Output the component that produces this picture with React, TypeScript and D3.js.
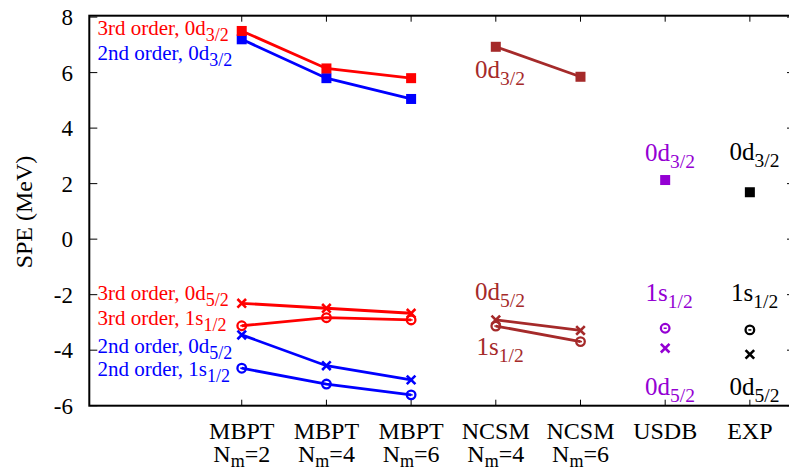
import React from "react";
import * as d3 from "d3";

const methods = ["MBPT", "MBPT", "MBPT", "NCSM", "NCSM", "USDB", "EXP"];
const nmValues = ["2", "4", "6", "4", "6", "", ""];
const yTicks = [-6, -4, -2, 0, 2, 4, 6, 8];

const mbptIdx = [0, 1, 2];
const ncsmIdx = [3, 4];
const usdbIdx = [5];
const expIdx = [6];

const mbpt3_d32 = [7.5, 6.15, 5.8];
const mbpt2_d32 = [7.2, 5.8, 5.05];
const mbpt3_d52 = [-2.31, -2.49, -2.67];
const mbpt3_s12 = [-3.12, -2.83, -2.91];
const mbpt2_d52 = [-3.45, -4.56, -5.07];
const mbpt2_s12 = [-4.65, -5.22, -5.61];
const ncsm_d32 = [6.93, 5.85];
const ncsm_d52 = [-2.91, -3.29];
const ncsm_s12 = [-3.13, -3.69];
const usdb_d32 = [2.13];
const usdb_s12 = [-3.21];
const usdb_d52 = [-3.93];
const exp_d32 = [1.69];
const exp_s12 = [-3.27];
const exp_d52 = [-4.15];

const RED = "#ff0000";
const BLUE = "#0000ff";
const BROWN = "#a52a2a";
const VIOLET = "#9400d3";
const BLACK = "#000000";

type Marker = "square" | "circle" | "cross";
interface Series { idx: number[]; vals: number[]; color: string; marker: Marker; line: boolean; }

const series: Series[] = [
  { idx: mbptIdx, vals: mbpt2_d32, color: BLUE, marker: "square", line: true },
  { idx: mbptIdx, vals: mbpt3_d32, color: RED, marker: "square", line: true },
  { idx: mbptIdx, vals: mbpt2_d52, color: BLUE, marker: "cross", line: true },
  { idx: mbptIdx, vals: mbpt2_s12, color: BLUE, marker: "circle", line: true },
  { idx: mbptIdx, vals: mbpt3_d52, color: RED, marker: "cross", line: true },
  { idx: mbptIdx, vals: mbpt3_s12, color: RED, marker: "circle", line: true },
  { idx: ncsmIdx, vals: ncsm_d32, color: BROWN, marker: "square", line: true },
  { idx: ncsmIdx, vals: ncsm_d52, color: BROWN, marker: "cross", line: true },
  { idx: ncsmIdx, vals: ncsm_s12, color: BROWN, marker: "circle", line: true },
  { idx: usdbIdx, vals: usdb_d32, color: VIOLET, marker: "square", line: false },
  { idx: usdbIdx, vals: usdb_s12, color: VIOLET, marker: "circle", line: false },
  { idx: usdbIdx, vals: usdb_d52, color: VIOLET, marker: "cross", line: false },
  { idx: expIdx, vals: exp_d32, color: BLACK, marker: "square", line: false },
  { idx: expIdx, vals: exp_s12, color: BLACK, marker: "circle", line: false },
  { idx: expIdx, vals: exp_d52, color: BLACK, marker: "cross", line: false },
];

interface Ann { x: number; y: number; main: string; sub: string; color: string; big: boolean; }
const annotations: Ann[] = [
  { x: 97.5, y: 35, main: "3rd order, 0d", sub: "3/2", color: RED, big: false },
  { x: 97.5, y: 59.5, main: "2nd order, 0d", sub: "3/2", color: BLUE, big: false },
  { x: 97.5, y: 299.5, main: "3rd order, 0d", sub: "5/2", color: RED, big: false },
  { x: 97.5, y: 325, main: "3rd order, 1s", sub: "1/2", color: RED, big: false },
  { x: 97.5, y: 352.5, main: "2nd order, 0d", sub: "5/2", color: BLUE, big: false },
  { x: 97.5, y: 376, main: "2nd order, 1s", sub: "1/2", color: BLUE, big: false },
  { x: 475, y: 77.5, main: "0d", sub: "3/2", color: BROWN, big: true },
  { x: 475, y: 299.5, main: "0d", sub: "5/2", color: BROWN, big: true },
  { x: 476.5, y: 355, main: "1s", sub: "1/2", color: BROWN, big: true },
  { x: 645, y: 161, main: "0d", sub: "3/2", color: VIOLET, big: true },
  { x: 645.5, y: 300.5, main: "1s", sub: "1/2", color: VIOLET, big: true },
  { x: 645, y: 395, main: "0d", sub: "5/2", color: VIOLET, big: true },
  { x: 729.5, y: 159.5, main: "0d", sub: "3/2", color: BLACK, big: true },
  { x: 731, y: 300.5, main: "1s", sub: "1/2", color: BLACK, big: true },
  { x: 729.5, y: 395, main: "0d", sub: "5/2", color: BLACK, big: true },
];

const W = 789, H = 468;
const L = 89.3, R = 795, T = 15.7, B = 405.7;
const FONT = "'Liberation Serif', 'Times New Roman', serif";

export default function App() {
  const x = d3.scaleLinear().domain([-1.8, 6.533]).range([L, R]);
  const y = d3.scaleLinear().domain([-6, 8.05]).range([B, T]);
  const line = d3.line<[number, number]>().x(d => x(d[0])).y(d => y(d[1]));

  const drawMarker = (m: Marker, cx: number, cy: number, color: string, key: string) => {
    if (m === "square") return <rect key={key} x={cx - 5} y={cy - 5} width={10} height={10} fill={color} />;
    if (m === "circle") return (
      <g key={key}>
        <circle cx={cx} cy={cy} r={4.3} fill="none" stroke={color} strokeWidth={2.3} />
        <line x1={cx - 1.5} x2={cx + 1.5} y1={cy} y2={cy} stroke={color} strokeWidth={1.5} />
      </g>
    );
    return (
      <path key={key} d={`M${cx - 4.3},${cy - 4.3}L${cx + 4.3},${cy + 4.3}M${cx - 4.3},${cy + 4.3}L${cx + 4.3},${cy - 4.3}`}
        stroke={color} strokeWidth={2.6} fill="none" />
    );
  };

  return (
    <svg width={W} height={H} style={{ position: "absolute", left: 0, top: 0, background: "#fff" }} fontFamily={FONT}>
      <rect x={0} y={0} width={W} height={H} fill="#fff" />
      {yTicks.map(t => (
        <g key={"yt" + t}>
          <line x1={L} x2={L + 8} y1={y(t)} y2={y(t)} stroke="#000" strokeWidth={1} />
          <line x1={R - 8} x2={R} y1={y(t)} y2={y(t)} stroke="#000" strokeWidth={1} />
          <text x={73} y={y(t)} dy="0.35em" textAnchor="end" fontSize={23}>{t}</text>
        </g>
      ))}
      {methods.map((m, i) => (
        <g key={"xt" + i}>
          <line x1={x(i)} x2={x(i)} y1={B} y2={B - 6} stroke="#000" strokeWidth={1} />
          <line x1={x(i)} x2={x(i)} y1={T} y2={T + 6} stroke="#000" strokeWidth={1} />
          <text x={x(i)} y={438.5} textAnchor="middle" fontSize={24}>{m}</text>
          {nmValues[i] && (
            <text x={x(i)} y={461.5} textAnchor="middle" fontSize={24}>
              N<tspan fontSize={18} dy={5}>m</tspan><tspan dy={-5}>={nmValues[i]}</tspan>
            </text>
          )}
        </g>
      ))}
      <text transform="translate(32,212) rotate(-90)" textAnchor="middle" fontSize={24}>SPE (MeV)</text>
      {series.filter(s => s.line).map((s, k) => (
        <path key={"l" + k} d={line(s.idx.map((i, j) => [i, s.vals[j]] as [number, number])) || ""}
          fill="none" stroke={s.color} strokeWidth={2.8} />
      ))}
      {series.map((s, k) => s.idx.map((i, j) => drawMarker(s.marker, x(i), y(s.vals[j]), s.color, `m${k}-${j}`)))}
      {annotations.map((a, k) => (
        <text key={"a" + k} x={a.x} y={a.y} fill={a.color} fontSize={a.big ? 25 : 21}>
          {a.main}<tspan fontSize={a.big ? 19.5 : 18} dy={a.big ? 7 : 6}>{a.sub}</tspan>
        </text>
      ))}
      <rect x={L} y={T} width={R - L} height={B - T} fill="none" stroke="#000" strokeWidth={2} />
    </svg>
  );
}
